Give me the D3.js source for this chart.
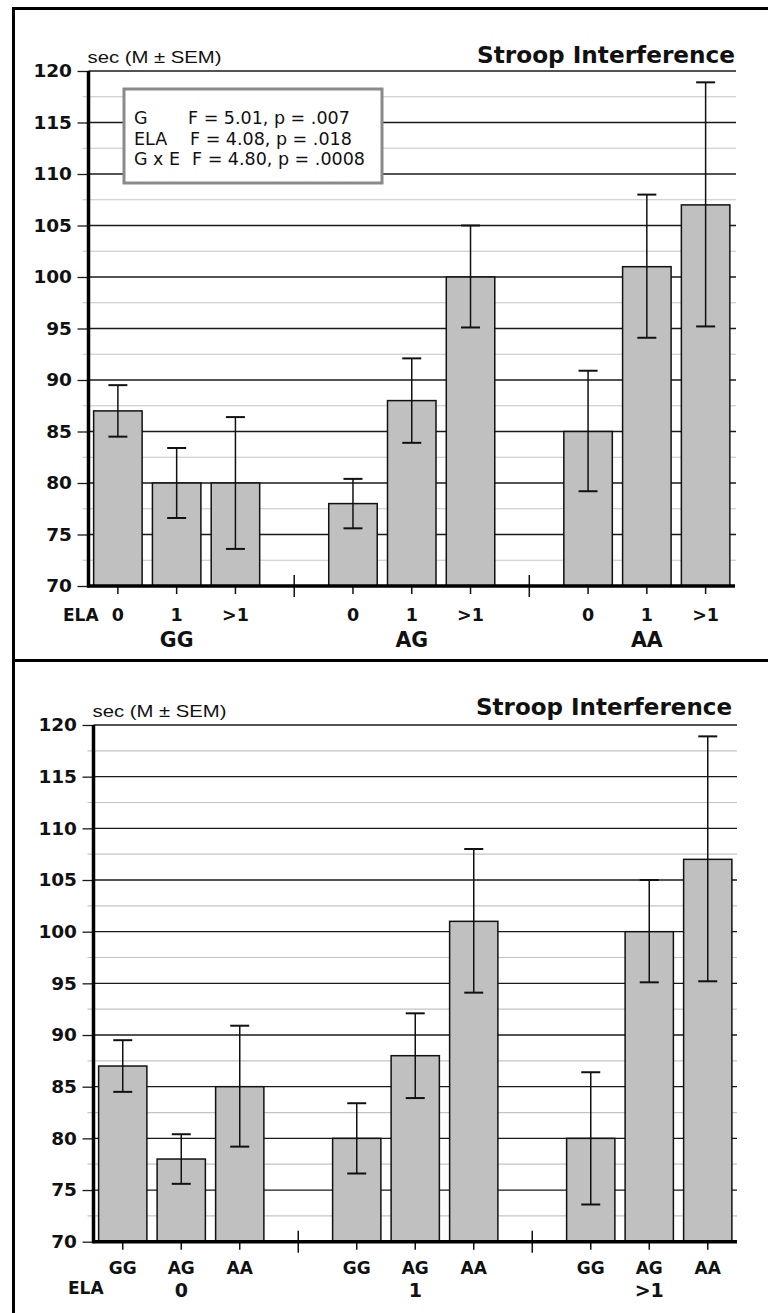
<!DOCTYPE html>
<html><head><meta charset="utf-8">
<script src="https://cdn.jsdelivr.net/npm/d3@7"></script>
<style>html,body{margin:0;padding:0;background:#fff;} svg{display:block}</style>
</head><body>
<svg id="chart" width="768" height="1313"></svg>
<script>
// ---------- data ----------
const genotypes = ["GG", "AG", "AA"];
const elaLevels = ["0", "1", ">1"];
const meanGG = [87, 80, 80];
const meanAG = [78, 88, 100];
const meanAA = [85, 101, 107];
const upperGG = [89.5, 83.4, 86.4];
const upperAG = [80.4, 92.1, 105];
const upperAA = [90.9, 108, 118.9];
const lowerGG = [84.5, 76.6, 73.6];
const lowerAG = [75.6, 83.9, 95.1];
const lowerAA = [79.2, 94.1, 95.2];
const yTickValues = [70, 75, 80, 85, 90, 95, 100, 105, 110, 115, 120];
const yMinorValues = [72.5, 77.5, 82.5, 87.5, 92.5, 97.5, 102.5, 107.5, 112.5, 117.5];
const titleText = "Stroop Interference";
const yLabelText = "sec (M \u00B1 SEM)";
const elaLabel = "ELA";
const statTerms = ["G", "ELA", "G x E"];
const statF = ["5.01", "4.08", "4.80"];
const statP = [".007", ".018", ".0008"];

const meansAll = [meanGG, meanAG, meanAA];
const upperAll = [upperGG, upperAG, upperAA];
const lowerAll = [lowerGG, lowerAG, lowerAA];
const records = genotypes.flatMap((g, gi) => elaLevels.map((e, ei) => ({
  g, e, mean: meansAll[gi][ei], hi: upperAll[gi][ei], lo: lowerAll[gi][ei]
})));

const svg = d3.select("#chart");
const BOLD = "'DejaVu Sans', Verdana, sans-serif";

// outer frame
svg.append("line").attr("x1", 13.5).attr("x2", 13.5).attr("y1", 7).attr("y2", 1313)
  .attr("stroke", "#000").attr("stroke-width", 3);
svg.append("line").attr("x1", 12).attr("x2", 768).attr("y1", 8.5).attr("y2", 8.5)
  .attr("stroke", "#000").attr("stroke-width", 3);
svg.append("line").attr("x1", 12).attr("x2", 768).attr("y1", 660.5).attr("y2", 660.5)
  .attr("stroke", "#000").attr("stroke-width", 3);

function drawPanel(o) {
  const g = svg.append("g");
  const outer = o.outerKeys, inner = o.innerKeys;
  const slots = [];
  outer.forEach((ok, i) => {
    inner.forEach(ik => slots.push(ok + "|" + ik));
    if (i < outer.length - 1) slots.push("sep" + i);
  });
  const x = d3.scaleBand().domain(slots).range([o.axisX, o.xEnd]).paddingInner(0).paddingOuter(0);
  const y = d3.scaleLinear().domain([70, 120]).range([o.yBottom, o.yTop]);
  const bw = x.bandwidth() * 0.825;

  // minor gridlines
  g.selectAll(".minor").data(yMinorValues).join("line")
    .attr("x1", o.axisX - 6).attr("x2", o.gridEnd)
    .attr("y1", d => y(d)).attr("y2", d => y(d))
    .attr("stroke", "#c4c4c4").attr("stroke-width", 1.2);
  // major gridlines
  g.selectAll(".major").data(yTickValues.filter(v => v > 70)).join("line")
    .attr("x1", o.axisX).attr("x2", o.gridEnd)
    .attr("y1", d => y(d)).attr("y2", d => y(d))
    .attr("stroke", "#1a1a1a").attr("stroke-width", 1.3);

  // y axis ticks + labels
  const yAxis = d3.axisLeft(y).tickValues(yTickValues).tickSize(11).tickPadding(5.5)
    .tickFormat(d3.format("d"));
  const ya = g.append("g").attr("transform", `translate(${o.axisX},0)`).call(yAxis);
  ya.select(".domain").remove();
  ya.selectAll(".tick line").attr("stroke", "#1a1a1a").attr("stroke-width", 1.3);
  ya.selectAll(".tick text").attr("font-family", BOLD).attr("font-weight", "bold")
    .attr("font-size", 18.5).attr("fill", "#111");

  // stats box (top panel only)
  if (o.stats) {
    g.append("rect").attr("x", 124).attr("y", 89).attr("width", 258).attr("height", 94)
      .attr("fill", "#fff").attr("stroke", "#8a8a8a").attr("stroke-width", 3);
    const st = g.selectAll(".stat").data(statTerms).join("g");
    st.append("text").attr("x", 134).attr("y", (d, i) => 124 + i * 20.5)
      .attr("font-family", BOLD).attr("font-size", 17.5).attr("fill", "#111").text(d => d);
    st.append("text").attr("x", (d, i) => 188 + i * 2).attr("y", (d, i) => 124 + i * 20.5)
      .attr("font-family", BOLD).attr("font-size", 17.5).attr("fill", "#111")
      .text((d, i) => `F = ${statF[i]}, p = ${statP[i]}`);
  }

  // bars
  const key = o.keyOf;
  g.selectAll(".bar").data(records).join("rect")
    .attr("x", d => x(key(d)) + (x.bandwidth() - bw) / 2)
    .attr("width", bw)
    .attr("y", d => y(d.mean))
    .attr("height", d => y(70) - y(d.mean))
    .attr("fill", "#c0c0c0").attr("stroke", "#111").attr("stroke-width", 1.5);

  // error bars
  const cx = d => x(key(d)) + x.bandwidth() / 2;
  const eb = g.selectAll(".err").data(records).join("g");
  eb.append("line").attr("x1", cx).attr("x2", cx)
    .attr("y1", d => y(d.lo)).attr("y2", d => y(d.hi))
    .attr("stroke", "#111").attr("stroke-width", 1.5);
  ["hi", "lo"].forEach(k => {
    eb.append("line").attr("x1", d => cx(d) - 9.5).attr("x2", d => cx(d) + 9.5)
      .attr("y1", d => y(d[k])).attr("y2", d => y(d[k]))
      .attr("stroke", "#111").attr("stroke-width", 2);
  });

  // x axis
  const xAxis = d3.axisBottom(x).tickValues(slots.filter(s => !s.startsWith("sep")))
    .tickSize(8).tickFormat(() => "");
  const xa = g.append("g").attr("transform", `translate(0,${y(70)})`).call(xAxis);
  xa.select(".domain").remove();
  xa.selectAll(".tick line").attr("stroke", "#111").attr("stroke-width", 1.5);
  g.selectAll(".sept").data(slots.filter(s => s.startsWith("sep"))).join("line")
    .attr("x1", s => x(s) + x.bandwidth() / 2).attr("x2", s => x(s) + x.bandwidth() / 2)
    .attr("y1", y(70) - 11).attr("y2", y(70) + 11)
    .attr("stroke", "#111").attr("stroke-width", 1.5);
  g.append("line").attr("x1", o.axisX - 1).attr("x2", o.xEnd)
    .attr("y1", y(70)).attr("y2", y(70)).attr("stroke", "#000").attr("stroke-width", 3.5);
  g.append("line").attr("x1", o.axisX).attr("x2", o.axisX)
    .attr("y1", y(120)).attr("y2", y(70) + 1.5).attr("stroke", "#000").attr("stroke-width", 3.5);

  const innerSlots = slots.filter(s => !s.startsWith("sep"));
  g.selectAll(".il").data(innerSlots).join("text")
    .attr("x", s => x(s) + x.bandwidth() / 2).attr("y", o.innerY)
    .attr("text-anchor", "middle").attr("font-family", BOLD).attr("font-weight", "bold")
    .attr("font-size", o.innerSize).attr("fill", "#111")
    .text(s => s.split("|")[1]);
  g.selectAll(".ol").data(outer).join("text")
    .attr("x", ok => x(ok + "|" + inner[1]) + x.bandwidth() / 2).attr("y", o.outerY)
    .attr("text-anchor", "middle").attr("font-family", BOLD).attr("font-weight", "bold")
    .attr("font-size", o.outerSize).attr("fill", "#111")
    .text(ok => ok);
  g.append("text").attr("x", o.elaX).attr("y", o.elaY)
    .attr("font-family", BOLD).attr("font-weight", "bold")
    .attr("font-size", 17).attr("fill", "#111").text(elaLabel);

  g.append("text").attr("x", o.axisX - 1).attr("y", o.yLabelY)
    .attr("font-family", "'Liberation Sans', Arial, sans-serif").attr("font-size", 17)
    .attr("textLength", 134).attr("lengthAdjust", "spacingAndGlyphs")
    .attr("fill", "#111").text(yLabelText);
  g.append("text").attr("x", o.titleRight - o.titleW).attr("y", o.titleY)
    .attr("font-family", BOLD).attr("font-weight", "bold").attr("font-size", 23)
    .attr("textLength", o.titleW).attr("lengthAdjust", "spacingAndGlyphs")
    .attr("fill", "#111").text(titleText);
}

drawPanel({
  outerKeys: genotypes, innerKeys: elaLevels, keyOf: d => d.g + "|" + d.e,
  axisX: 88.5, xEnd: 735, gridEnd: 736, yTop: 71, yBottom: 586,
  innerY: 621, innerSize: 17.5, outerY: 647, outerSize: 20.5,
  elaX: 63, elaY: 621, yLabelY: 63, titleY: 63, titleRight: 735, titleW: 258, stats: true
});
drawPanel({
  outerKeys: elaLevels, innerKeys: genotypes, keyOf: d => d.e + "|" + d.g,
  axisX: 93.5, xEnd: 737, gridEnd: 737, yTop: 725, yBottom: 1241.7,
  innerY: 1274, innerSize: 17, outerY: 1297, outerSize: 19,
  elaX: 68, elaY: 1294, yLabelY: 717, titleY: 715, titleRight: 732, titleW: 256, stats: false
});
</script>
</body></html>
